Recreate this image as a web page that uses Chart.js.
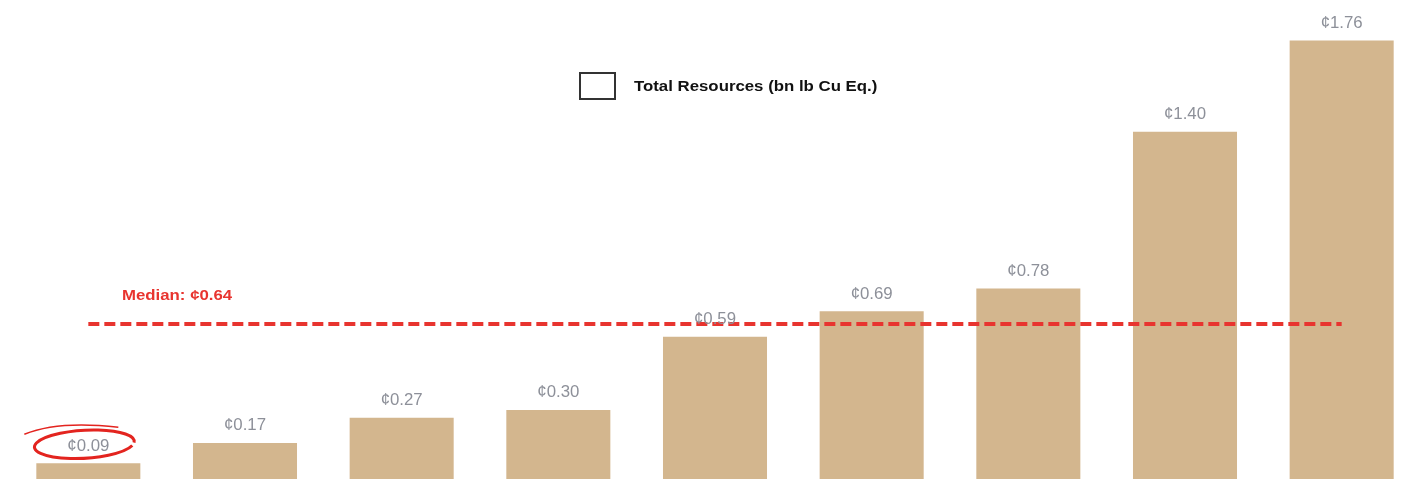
<!DOCTYPE html>
<html>
<head>
<meta charset="utf-8">
<script src="https://cdn.jsdelivr.net/npm/chart.js@4/dist/chart.umd.min.js"></script>
<style>
  html, body { margin: 0; padding: 0; background: #fff; overflow: hidden; }
  #wrap { width: 1404px; height: 479px; overflow: hidden; position: relative; }
  #wrap canvas { position: absolute; left: 0; top: 0; }
</style>
</head>
<body>
<div id="wrap"><canvas id="chart" width="1420" height="490" style="width:1420px;height:490px"></canvas></div>
<script>
// Cost per lb Cu Eq. of total resources, sorted ascending
const categories = ['A', 'B', 'C', 'D', 'E', 'F', 'G', 'H', 'I'];
const values = [0.09, 0.17, 0.27, 0.30, 0.59, 0.69, 0.78, 1.40, 1.76];
const medianValue = 0.64;
const medianLine = [0.64, 0.64, 0.64, 0.64, 0.64, 0.64, 0.64, 0.64, 0.64];
const legendText = 'Total Resources (bn lb Cu Eq.)';

const fmt = v => '\u00A2' + v.toFixed(2);

// the source text looks a bit horizontally stretched, so draw it that way
function wideText(ctx, txt, x, y, sx) {
  ctx.save();
  ctx.translate(x, y);
  ctx.scale(sx, 1);
  ctx.fillText(txt, 0, 0);
  ctx.restore();
}

// value labels, median label, legend and the hand-drawn circle
const overlay = {
  id: 'overlay',
  afterDraw(chart) {
    const ctx = chart.ctx;
    const bars = chart.getDatasetMeta(1).data;
    ctx.save();
    ctx.font = '16px "Liberation Sans", Arial, sans-serif';
    ctx.fillStyle = '#8d9099';
    ctx.textAlign = 'center';
    ctx.textBaseline = 'middle';
    bars.forEach((b, i) => wideText(ctx, fmt(values[i]), b.x, b.y - 17, 1.05));
    ctx.restore();
  },
  afterDatasetsDraw(chart) {
    const ctx = chart.ctx;
    const bars = chart.getDatasetMeta(1).data;
    ctx.save();
    ctx.textBaseline = 'middle';

    // median label
    const yM = chart.scales.y.getPixelForValue(medianValue);
    ctx.font = 'bold 15px "Liberation Sans", Arial, sans-serif';
    ctx.fillStyle = '#e8342f';
    ctx.textAlign = 'left';
    wideText(ctx, 'Median: ' + fmt(medianValue), 122, yM - 28, 1.12);

    // legend
    ctx.strokeStyle = '#333';
    ctx.lineWidth = 2;
    ctx.strokeRect(580, 73, 35, 26);
    ctx.fillStyle = '#111';
    wideText(ctx, legendText, 634, 87, 1.12);

    // red circle round the first label
    const b0 = bars[0];
    ctx.strokeStyle = '#e3241f';
    ctx.lineWidth = 3;
    ctx.beginPath();
    ctx.ellipse(b0.x - 4, b0.y - 19, 50, 14, -0.06, 0.3, Math.PI * 2 + 0.1);
    ctx.stroke();
    ctx.lineWidth = 1.5;
    ctx.beginPath();
    ctx.moveTo(b0.x - 64, b0.y - 29);
    ctx.quadraticCurveTo(b0.x - 30, b0.y - 43, b0.x + 30, b0.y - 36);
    ctx.stroke();
    ctx.restore();
  }
};

new Chart(document.getElementById('chart'), {
  data: {
    labels: categories,
    datasets: [
      {
        type: 'line',
        label: 'Median',
        data: medianLine,
        borderColor: '#e8342f',
        borderWidth: 4,
        borderDash: [11, 5],
        pointRadius: 0,
        fill: false,
        order: 0
      },
      {
        type: 'bar',
        label: legendText,
        data: values,
        backgroundColor: '#d3b68e',
        barPercentage: 0.664,
        categoryPercentage: 1,
        order: 1
      }
    ]
  },
  options: {
    responsive: false,
    animation: false,
    layout: { padding: { left: 10, right: 0, top: 0, bottom: 4 } },
    plugins: { legend: { display: false }, tooltip: { enabled: false } },
    scales: {
      x: { display: false, grid: { display: false } },
      y: { display: false, min: 0, max: 1.92, grid: { display: false } }
    }
  },
  plugins: [overlay]
});
</script>
</body>
</html>
